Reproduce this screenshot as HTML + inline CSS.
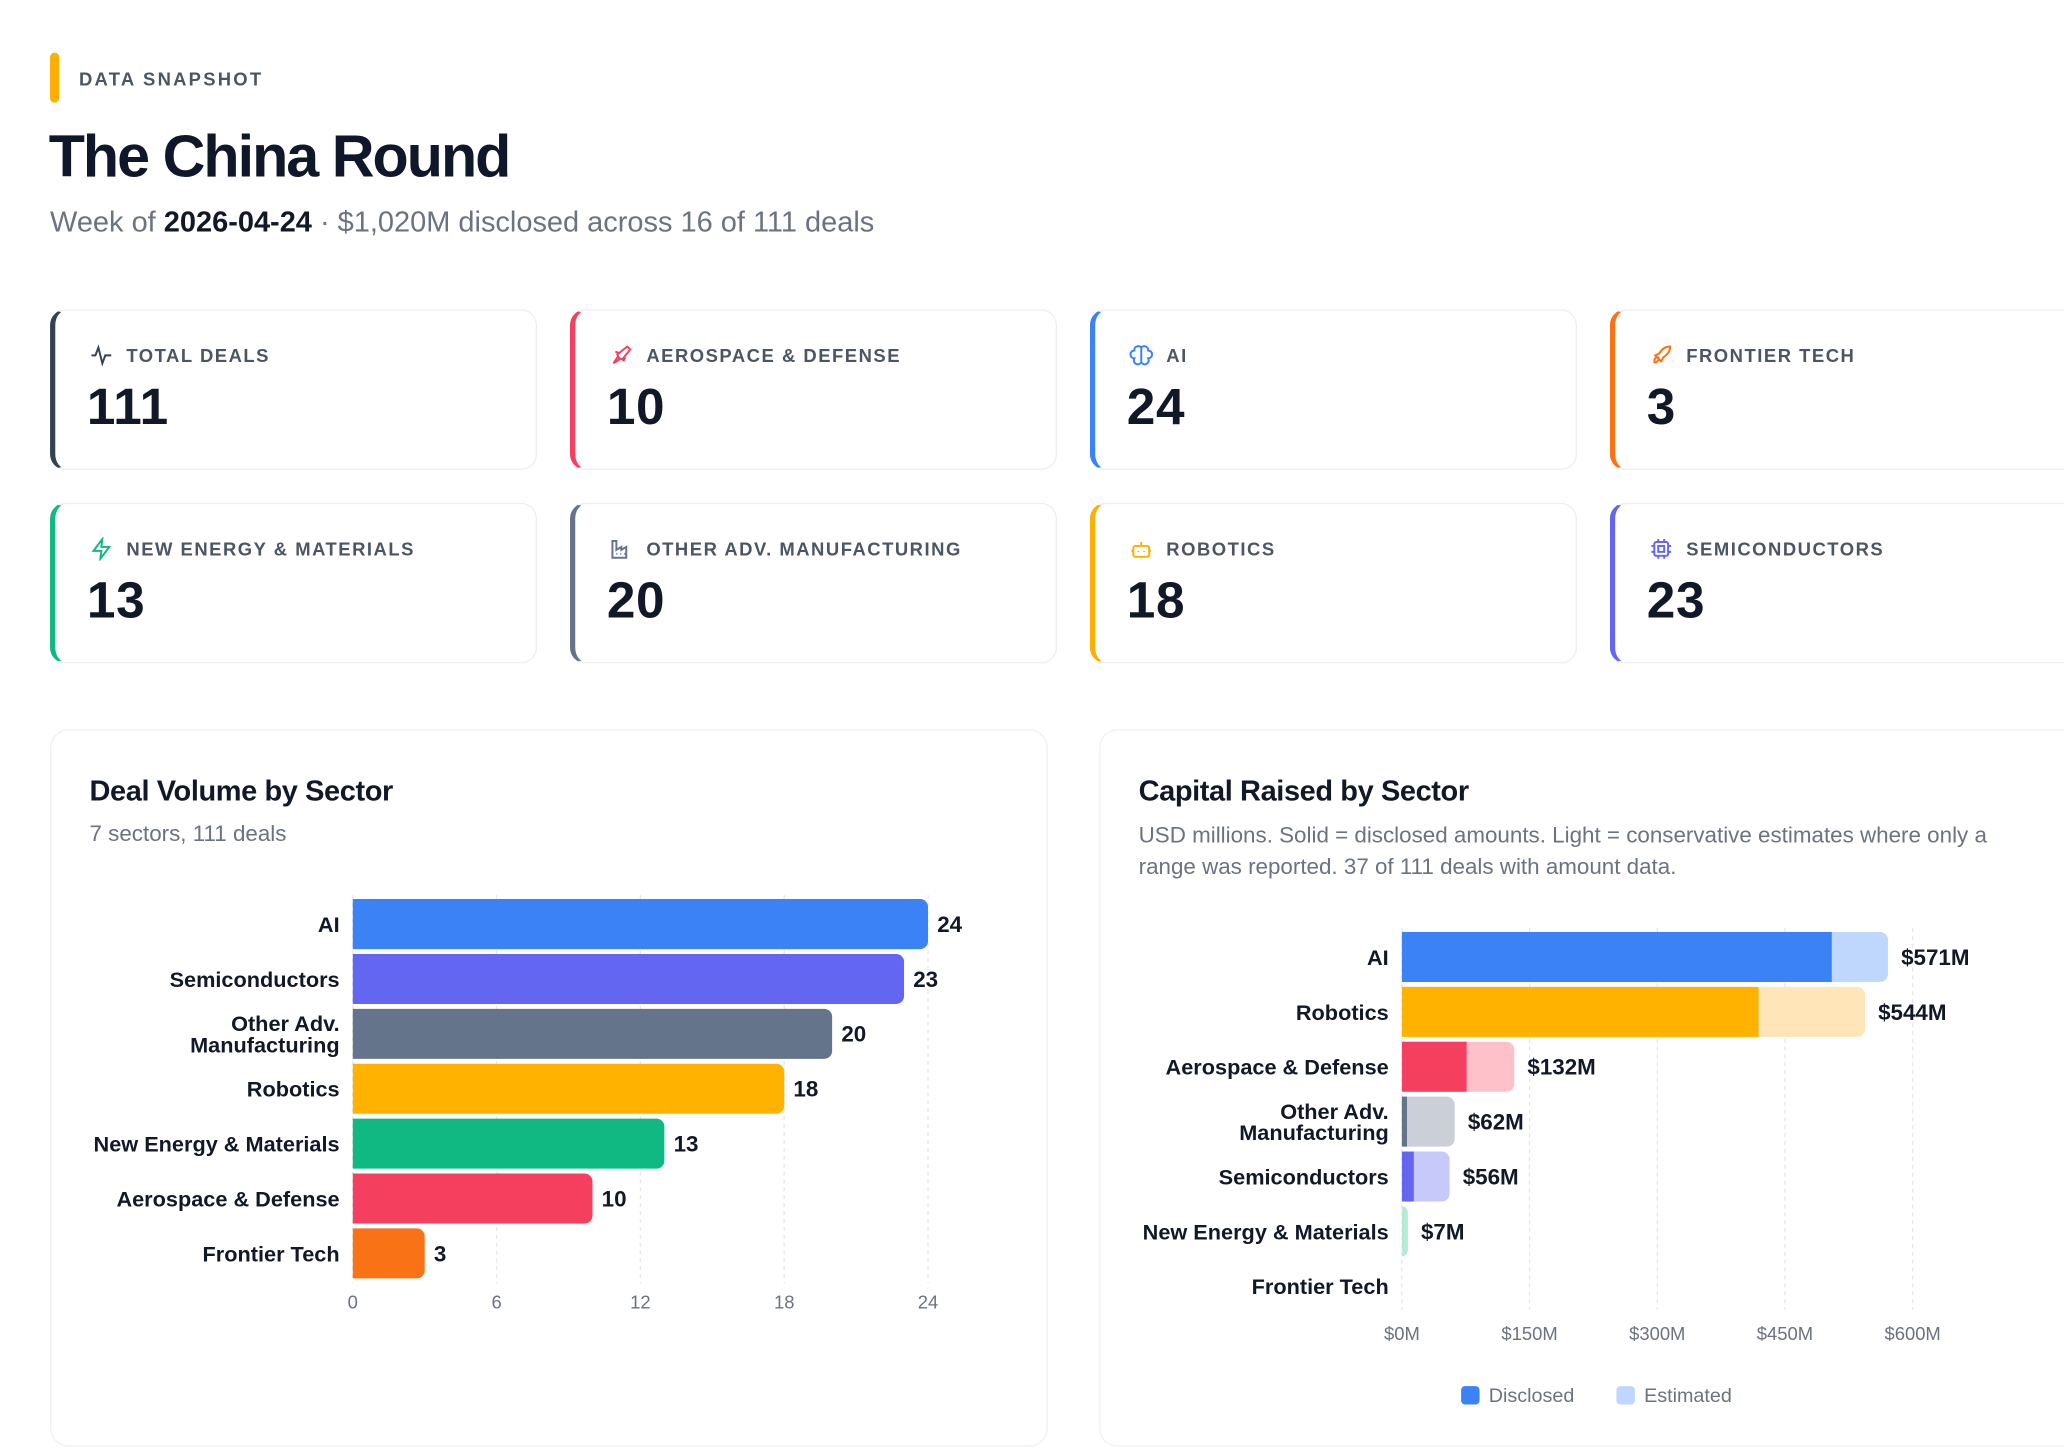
<!DOCTYPE html>
<html><head><meta charset="utf-8">
<style>
html,body{margin:0;padding:0;background:#fff;width:2064px;height:1452px;overflow:hidden}
#wrap{position:absolute;left:0;top:0;width:1568px;height:1103px;transform:scale(1.31633);transform-origin:0 0;font-family:"Liberation Sans",sans-serif;color:#111827}
.abs{position:absolute}
.card{position:absolute;width:370px;height:122px;box-sizing:border-box;border:1px solid #eceef2;border-left:4px solid;border-radius:12px;background:#fff}
.card .lbl{position:absolute;left:54px;top:26px;font-size:14px;font-weight:bold;letter-spacing:1.15px;color:#4b5563;white-space:nowrap}
.card .ic{position:absolute;left:26px;top:25px;width:18px;height:18px}
.card .val{position:absolute;left:24px;top:52px;font-size:39px;font-weight:900;color:#111827;letter-spacing:0.5px}
.panel{position:absolute;top:554px;height:545px;box-sizing:border-box;border:1px solid #eef0f3;border-radius:14px;background:#fff}
svg text{font-family:"Liberation Sans",sans-serif}
</style></head><body>
<div id="wrap">
<div class="abs" style="left:38px;top:40px;width:7px;height:38px;border-radius:4px;background:#fbb000"></div>
<div class="abs" style="left:60px;top:52px;font-size:14px;font-weight:bold;letter-spacing:1.7px;color:#4b5563">DATA SNAPSHOT</div>
<div class="abs" style="left:37px;top:93px;font-size:45px;font-weight:bold;letter-spacing:-1.5px;color:#0f172a">The China Round</div>
<div class="abs" style="left:38px;top:156px;font-size:22px;color:#6b7280;white-space:nowrap">Week of <b style="color:#111827">2026-04-24</b> · $1,020M disclosed across 16 of 111 deals</div>

<div class="card" style="left:38px;top:235px;border-left-color:#334155">
<svg class="ic" viewBox="0 0 24 24" fill="none" stroke="#334155" stroke-width="2"><path d="M2 12h4l3 -8 4 16 3 -8h6"/></svg>
<div class="lbl">TOTAL DEALS</div><div class="val">111</div></div>
<div class="card" style="left:433px;top:235px;border-left-color:#f43f5e">
<svg class="ic" viewBox="0 0 24 24" fill="none" stroke="#f43f5e" stroke-width="2"><path d="M4 20l6-4-2-5 10-8 3 3-8 10-5-2-4 6M6 8l4 2M14 18l2-4"/></svg>
<div class="lbl">AEROSPACE &amp; DEFENSE</div><div class="val">10</div></div>
<div class="card" style="left:828px;top:235px;border-left-color:#3b82f6">
<svg class="ic" viewBox="0 0 24 24" fill="none" stroke="#3b82f6" stroke-width="2"><path d="M12 4a4 4 0 0 0-7 3 4 4 0 0 0 0 8 4 4 0 0 0 7 4zM12 4a4 4 0 0 1 7 3 4 4 0 0 1 0 8 4 4 0 0 1-7 4z"/></svg>
<div class="lbl">AI</div><div class="val">24</div></div>
<div class="card" style="left:1223px;top:235px;border-left-color:#f97316">
<svg class="ic" viewBox="0 0 24 24" fill="none" stroke="#f97316" stroke-width="2"><path d="M5 19c0-3 1-5 3-5s2 2 0 4-3 1-3 1zM9 15l-3-3 4-2c3-5 7-7 11-7 0 4-2 8-7 11l-2 4z"/></svg>
<div class="lbl">FRONTIER TECH</div><div class="val">3</div></div>

<div class="card" style="left:38px;top:382px;border-left-color:#10b981">
<svg class="ic" viewBox="0 0 24 24" fill="none" stroke="#10b981" stroke-width="2"><path d="M13 2L4 14h8l-1 8 9-12h-8z"/></svg>
<div class="lbl">NEW ENERGY &amp; MATERIALS</div><div class="val">13</div></div>
<div class="card" style="left:433px;top:382px;border-left-color:#64748b">
<svg class="ic" viewBox="0 0 24 24" fill="none" stroke="#64748b" stroke-width="2"><path d="M3 21V4h4v9l5-3v3l5-3v11zM7 17h1M11 17h1M15 17h1"/></svg>
<div class="lbl">OTHER ADV. MANUFACTURING</div><div class="val">20</div></div>
<div class="card" style="left:828px;top:382px;border-left-color:#fbb000">
<svg class="ic" viewBox="0 0 24 24" fill="none" stroke="#fbb000" stroke-width="2"><rect x="4" y="9" width="16" height="11" rx="2"/><path d="M12 9V5M9 14v1M15 14v1M2 14h2M20 14h2"/></svg>
<div class="lbl">ROBOTICS</div><div class="val">18</div></div>
<div class="card" style="left:1223px;top:382px;border-left-color:#6366f1">
<svg class="ic" viewBox="0 0 24 24" fill="none" stroke="#6366f1" stroke-width="2"><rect x="5" y="5" width="14" height="14" rx="2"/><rect x="9" y="9" width="6" height="6"/><path d="M9 2v3M15 2v3M9 19v3M15 19v3M2 9h3M2 15h3M19 9h3M19 15h3"/></svg>
<div class="lbl">SEMICONDUCTORS</div><div class="val">23</div></div>

<div class="panel" style="left:38px;width:758px"></div>
<div class="abs" style="left:68px;top:588px;font-size:22px;font-weight:bold;letter-spacing:-0.3px">Deal Volume by Sector</div>
<div class="abs" style="left:68px;top:624px;font-size:17px;color:#6b7280">7 sectors, 111 deals</div>
<svg id="vol" class="abs" style="left:0;top:0" width="800" height="1103"></svg>

<div class="panel" style="left:835px;width:760px"></div>
<div class="abs" style="left:865px;top:588px;font-size:22px;font-weight:bold;letter-spacing:-0.3px">Capital Raised by Sector</div>
<div class="abs" style="left:865px;top:623px;width:675px;font-size:17px;line-height:24px;color:#6b7280">USD millions. Solid = disclosed amounts. Light = conservative estimates where only a range was reported. 37 of 111 deals with amount data.</div>
<svg id="cap" class="abs" style="left:0;top:0" width="1568" height="1103"></svg>
</div>
<script>
const volCats=["AI","Semiconductors","Other Adv.|Manufacturing","Robotics","New Energy & Materials","Aerospace & Defense","Frontier Tech"];
const volVals=[24,23,20,18,13,10,3];
const volColors=["#3b82f6","#6366f1","#64748b","#ffb300","#10b981","#f43f5e","#f97316"];
const volTicks=[0,6,12,18,24];
const capCats=["AI","Robotics","Aerospace & Defense","Other Adv.|Manufacturing","Semiconductors","New Energy & Materials","Frontier Tech"];
const capDisclosed=[505,419,76,6,14,0,0];
const capTotal=[571,544,132,62,56,7,0];
const capColors=["#3b82f6","#ffb300","#f43f5e","#64748b","#6366f1","#10b981","#f97316"];
const capLight=["#bfd6fd","#ffe5b8","#fec0c9","#cbd0d8","#c8c9fb","#b5ead5","#fed7aa"];
const capTicks=[0,150,300,450,600];
const NS="http://www.w3.org/2000/svg";
function mk(p,t,a,txt){const e=document.createElementNS(NS,t);for(const k in a)e.setAttribute(k,a[k]);if(txt!=null)e.textContent=txt;p.appendChild(e);return e;}
function rbar(x,w,y,h,r){r=Math.min(r,w);return `M${x},${y}h${w-r}a${r},${r} 0 0 1 ${r},${r}v${h-2*r}a${r},${r} 0 0 1 -${r},${r}h-${w-r}z`;}
function catLabel(g,x,cy,label){
  const parts=label.split("|");
  parts.forEach((s,i)=>{const t=mk(g,"text",{x:x,y:cy+6+(i-(parts.length-1)/2)*16,"text-anchor":"end","font-size":16.5,"font-weight":"bold",fill:"#111827"},s);
  
  });
}
(function(){
const s=document.getElementById("vol");
const x0=268,x1=705,y0=683,step=41.7,bh=38;
const xs=v=>x0+(x1-x0)*v/24;
volTicks.forEach(t=>{const l=mk(s,"line",{x1:xs(t),x2:xs(t),y1:680,y2:975,stroke:"#e5e7eb","stroke-dasharray":"3 3"});


const tx=mk(s,"text",{x:xs(t),y:994,"text-anchor":"middle","font-size":14,fill:"#6b7280"},t);

});
volVals.forEach((v,i)=>{const y=y0+i*step;
const b=mk(s,"path",{d:rbar(x0,xs(v)-x0,y,bh,6),fill:volColors[i]});


catLabel(s,258,y+bh/2,volCats[i]);
const t=mk(s,"text",{x:xs(v)+7,y:y+bh/2+6,"font-size":17,"font-weight":"bold",fill:"#111827"},v);

});
})();
(function(){
const s=document.getElementById("cap");
const x0=1065,y0=708,step=41.7,bh=38;
const xs=v=>x0+(1453-1065)*v/600;
capTicks.forEach(t=>{const l=mk(s,"line",{x1:xs(t),x2:xs(t),y1:705,y2:995,stroke:"#e5e7eb","stroke-dasharray":"3 3"});


const tx=mk(s,"text",{x:xs(t),y:1018,"text-anchor":"middle","font-size":14,fill:"#6b7280"},"$"+t+"M");

});
capTotal.forEach((v,i)=>{const y=y0+i*step;
if(v>0){const e=mk(s,"path",{d:rbar(x0,xs(v)-x0,y,bh,6),fill:capLight[i]});

}
if(capDisclosed[i]>0){const d=mk(s,"rect",{x:x0,y:y,width:xs(capDisclosed[i])-x0,height:bh,fill:capColors[i]});

}
catLabel(s,1055,y+bh/2,capCats[i]);
if(v>0){const t=mk(s,"text",{x:xs(v)+10,y:y+bh/2+6,"font-size":17,"font-weight":"bold",fill:"#111827"},"$"+v+"M");

}});
const lg=[["Disclosed","#3b82f6",1110],["Estimated","#bfd6fd",1228]];
lg.forEach(L=>{const r=mk(s,"rect",{x:L[2],y:1053,width:14,height:14,rx:3,fill:L[1]});


const t=mk(s,"text",{x:L[2]+21,y:1065,"font-size":15,fill:"#6b7280"},L[0]);

});
})();
</script>
</body></html>
